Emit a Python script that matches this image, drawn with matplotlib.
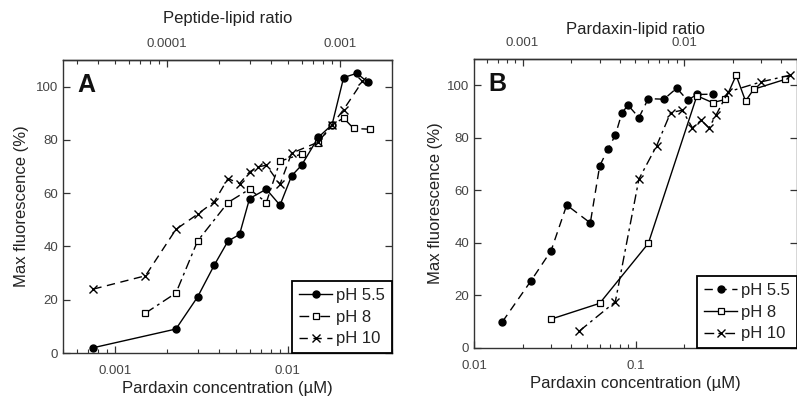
import matplotlib
matplotlib.use("Agg")
import matplotlib.pyplot as plt
from matplotlib.ticker import FixedLocator, LogLocator, NullFormatter, FixedFormatter

plt.rcParams['font.family'] = ['Liberation Sans', 'DejaVu Sans']

# ---------------- Panel A data ----------------
a55_x = [0.00075, 0.00225, 0.003, 0.00375, 0.0045, 0.00525, 0.006, 0.0075, 0.009,
         0.0105, 0.012, 0.015, 0.018, 0.021, 0.025, 0.029]
a55_y = [2, 9, 21, 33, 42, 44.5, 58, 61.5, 55.5, 66.5, 70.5, 81, 85.7, 103.4, 105, 101.7]

a8_x = [0.0015, 0.00225, 0.003, 0.0045, 0.006, 0.0075, 0.009, 0.012, 0.015, 0.018,
        0.021, 0.024, 0.03]
a8_y = [15, 22.5, 42, 56.5, 61.5, 56.5, 72, 74.7, 78.8, 85.7, 88.2, 84.3, 84]

a10_x = [0.00075, 0.0015, 0.00225, 0.003, 0.00375, 0.0045, 0.00525, 0.006, 0.00675,
         0.0075, 0.009, 0.0105, 0.015, 0.018, 0.021, 0.027]
a10_y = [24, 29, 46.4, 52.1, 56.8, 65.5, 63.6, 68, 69.9, 70.5, 63.3, 75, 79.2, 85.7, 91.4, 102]

# ---------------- Panel B data ----------------
b55_x = [0.015, 0.0225, 0.03, 0.0375, 0.0525, 0.06, 0.0675, 0.075, 0.0825, 0.09,
         0.105, 0.12, 0.15, 0.18, 0.21, 0.24, 0.30]
b55_y = [10, 25.5, 37, 54.4, 47.6, 69.3, 75.7, 81, 89.6, 92.4, 87.7, 94.9, 94.7,
         98.9, 94.3, 96.5, 96.6]

b8_x = [0.03, 0.06, 0.12, 0.24, 0.30, 0.36, 0.42, 0.48, 0.54, 0.84]
b8_y = [11, 17, 39.8, 96, 93.4, 94.6, 103.8, 94, 98.5, 102.2]

b10_x = [0.045, 0.075, 0.105, 0.135, 0.165, 0.195, 0.225, 0.255, 0.285, 0.315,
         0.375, 0.6, 0.9]
b10_y = [6.5, 17.6, 64.3, 76.9, 89.6, 90.5, 83.8, 86.7, 83.8, 88.6, 97.5, 101.3, 103.8]

labels = ['pH 5.5', 'pH 8', 'pH 10']
yticks = [0, 20, 40, 60, 80, 100]

TXT = '#222222'
TICKC = '#444444'

fig = plt.figure(figsize=(7.97, 3.97), dpi=100)
axA = fig.add_axes([63/797, 44/397, 329/797, 293/397])
axB = fig.add_axes([474/797, 49/397, 323/797, 289/397])

dash_dot = (0, (7, 3, 2, 3))
dashed = (0, (6, 4))

def style_axis(ax, xlim, xmajor, xlabels, topmajor, toplabels, toplabel, toppad, ylpad, letter):
    ax.set_xscale('log')
    ax.set_xlim(*xlim)
    ax.set_ylim(0, 110)
    ax.set_yticks(yticks)
    ax.set_yticklabels([str(t) for t in yticks])
    ax.xaxis.set_major_locator(FixedLocator(xmajor))
    ax.xaxis.set_major_formatter(FixedFormatter(xlabels))
    ax.xaxis.set_minor_locator(LogLocator(base=10, subs=range(2, 10), numticks=20))
    ax.xaxis.set_minor_formatter(NullFormatter())
    ax.tick_params(axis='both', which='major', direction='in', length=5, width=0.9,
                   labelsize=9.5, labelcolor=TICKC, color='#333333')
    ax.tick_params(axis='y', which='both', right=True)
    ax.tick_params(axis='x', which='minor', direction='in', length=3, width=0.8,
                   color='#333333')
    ax.tick_params(axis='x', which='major', pad=8.5)
    for s in ax.spines.values():
        s.set_linewidth(1.0)
        s.set_color('#333333')
    ax.set_xlabel('Pardaxin concentration (µM)', fontsize=12, color=TXT, labelpad=3)
    ax.set_ylabel('Max fluorescence (%)', fontsize=12, color=TXT, labelpad=ylpad)
    sec = ax.secondary_xaxis('top', functions=(lambda x: x / 20.0, lambda x: x * 20.0))
    sec.xaxis.set_major_locator(FixedLocator(topmajor))
    sec.xaxis.set_major_formatter(FixedFormatter(toplabels))
    sec.xaxis.set_minor_locator(LogLocator(base=10, subs=range(2, 10), numticks=20))
    sec.xaxis.set_minor_formatter(NullFormatter())
    sec.tick_params(which='major', direction='in', length=5, width=0.9,
                    labelsize=9.5, labelcolor=TICKC, color='#333333', pad=7)
    sec.tick_params(which='minor', direction='in', length=3, width=0.8, color='#333333')
    sec.spines['top'].set_linewidth(1.0)
    sec.spines['top'].set_color('#333333')
    sec.set_xlabel(toplabel, fontsize=12, color=TXT, labelpad=toppad)
    ax.text(0.043, 0.955, letter, transform=ax.transAxes, fontsize=18,
            fontweight='bold', va='top', ha='left', color='#111111')

mk = dict(color='black', linewidth=1.0)
# Panel A
axA.plot(a55_x, a55_y, linestyle='-', marker='o', markersize=5, label=labels[0], **mk)
axA.plot(a8_x, a8_y, linestyle=dash_dot, marker='s', markersize=5, markerfacecolor='white',
         markeredgewidth=0.9, label=labels[1], **mk)
axA.plot(a10_x, a10_y, linestyle=dashed, marker='x', markersize=5.5, markeredgewidth=1.0,
         label=labels[2], **mk)
style_axis(axA, (0.0005, 0.04), [0.001, 0.01], ['0.001', '0.01'],
           [0.0001, 0.001], ['0.0001', '0.001'], 'Peptide-lipid ratio', 11, 5, 'A')

# Panel B
axB.plot(b55_x, b55_y, linestyle=dashed, marker='o', markersize=5, label=labels[0], **mk)
axB.plot(b8_x, b8_y, linestyle='-', marker='s', markersize=5, markerfacecolor='white',
         markeredgewidth=0.9, label=labels[1], **mk)
axB.plot(b10_x, b10_y, linestyle=dash_dot, marker='x', markersize=5.5, markeredgewidth=1.0,
         label=labels[2], **mk)
style_axis(axB, (0.01, 1.0), [0.01, 0.1], ['0.01', '0.1'],
           [0.001, 0.01], ['0.001', '0.01'], 'Pardaxin-lipid ratio', 2, 3, 'B')

for ax in (axA, axB):
    leg = ax.legend(loc='lower right', fontsize=12, frameon=True, fancybox=False,
                    edgecolor='black', framealpha=1, borderaxespad=0.0,
                    labelspacing=0.4, handlelength=2.0, handletextpad=0.25,
                    borderpad=0.4)
    leg.get_frame().set_linewidth(1.3)
    for t in leg.get_texts():
        t.set_color(TXT)

fig.savefig('out.png', dpi=100)
